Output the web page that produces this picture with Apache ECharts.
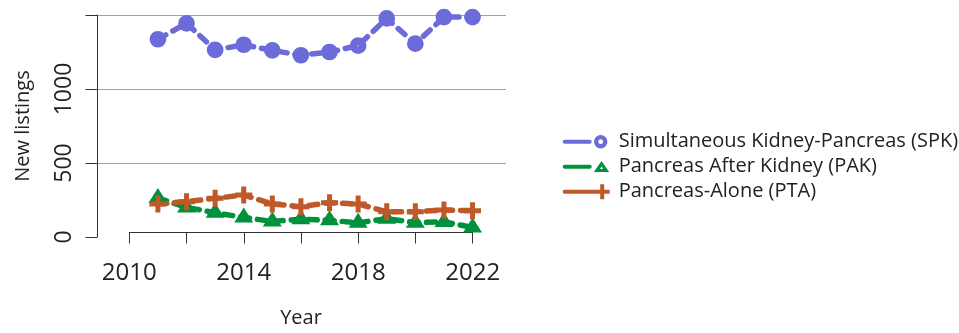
<!DOCTYPE html>
<html>
<head>
<meta charset="utf-8">
<script src="https://cdn.jsdelivr.net/npm/echarts@6/dist/echarts.min.js"></script>
<style>
html,body{margin:0;padding:0;background:#fff;}
#chart{width:959px;height:333px;}
</style>
</head>
<body>
<div id="chart"></div>
<script>
// ---- data ----
const years = [2011, 2012, 2013, 2014, 2015, 2016, 2017, 2018, 2019, 2020, 2021, 2022];
const spkValues = [1336, 1444, 1264, 1299, 1261, 1228, 1250, 1293, 1477, 1306, 1486, 1486];
const pakValues = [263, 200, 164, 132, 105, 120, 113, 96, 124, 97, 102, 65];
const ptaValues = [223, 239, 261, 284, 223, 205, 232, 223, 171, 171, 182, 178];
const seriesNames = ['Simultaneous Kidney-Pancreas (SPK)', 'Pancreas After Kidney (PAK)', 'Pancreas-Alone (PTA)'];
const xTickLabels = ['2010', '2014', '2018', '2022'];
const yTickLabels = ['0', '500', '1000'];

const colSPK = '#6b6bda';
const colPAK = '#00913d';
const colPTA = '#c0592a';
const FONT = 'Open Sans';

const pairs = vals => years.map((y, i) => [y, vals[i]]);

const corners = 'M0,0L0.01,0L0,0.01Z M51,16L50.99,16L51,15.99Z ';
const iconSPK = 'path://' + corners +
  'M2,6H27A2,2 0 0 1 27,10H2A2,2 0 0 1 2,6Z ' +
  'M44.7,8A6.7,6.7 0 1 0 31.3,8A6.7,6.7 0 1 0 44.7,8Z ' +
  'M40.4,8A2.4,2.4 0 1 1 35.6,8A2.4,2.4 0 1 1 40.4,8Z';
const iconPAK = 'path://' + corners +
  'M2,6H27A2,2 0 0 1 27,10H2A2,2 0 0 1 2,6Z ' +
  'M38.8,2.3L46.5,13.2L31.1,13.2Z ' +
  'M38.8,7.6L37.3,10.4L40.3,10.4Z';
const iconPTA = 'path://' + corners +
  'M2,6H32V10H2A2,2 0 0 1 2,6Z ' +
  'M37.5,0.5H41.5V6H47V10H41.5V15.5H37.5V10H32V6H37.5Z';
const plusSymbol = 'path://M6,0h5v6h6v5h-6v6h-5v-6h-6v-5h6z';
const ringSymbol = 'path://M16.7,8.35A8.35,8.35 0 1 0 0,8.35A8.35,8.35 0 1 0 16.7,8.35Z ' +
  'M8.9,8.35A0.55,0.55 0 1 1 7.8,8.35A0.55,0.55 0 1 1 8.9,8.35Z';

const lineCommon = (color) => ({
  color: color,
  width: 5.5,
  type: [9, 8],
  cap: 'round',
  join: 'round'
});

const chart = echarts.init(document.getElementById('chart'), null, {renderer: 'canvas'});
chart.setOption({
  animation: false,
  backgroundColor: '#fff',
  textStyle: {fontFamily: FONT},
  grid: [
    {left: 97, right: 453, top: 15, bottom: 96},
    {left: 129.3, right: 486.3, top: 15, bottom: 87.3}
  ],
  xAxis: [
    {gridIndex: 0, type: 'value', min: 2008.87, max: 2023.17, show: false},
    {
      gridIndex: 1, type: 'value', min: 2010, max: 2022, interval: 2,
      axisLine: {show: true, onZero: false, lineStyle: {color: '#333', width: 1}},
      axisTick: {show: true, length: 11.5, lineStyle: {color: '#333', width: 1}},
      splitLine: {show: false},
      axisLabel: {
        margin: 29, fontSize: 24, color: '#222', fontFamily: FONT,
        formatter: v => xTickLabels.indexOf(String(v)) >= 0 ? String(v) : ''
      },
      name: 'Year', nameLocation: 'middle', nameGap: 76,
      nameTextStyle: {fontSize: 20, color: '#222', fontFamily: FONT}
    }
  ],
  yAxis: [
    {
      gridIndex: 0, type: 'value', min: 0, max: 1500, interval: 500,
      axisLine: {show: true, onZero: false, lineStyle: {color: '#333', width: 1}},
      axisTick: {show: true, length: 11.5, lineStyle: {color: '#333', width: 1}},
      splitLine: {show: true, showMinLine: false, showMaxLine: true, lineStyle: {color: '#a3a3a3', width: 1}},
      axisLabel: {
        rotate: 90, margin: 21, fontSize: 23, color: '#222', fontFamily: FONT,
        formatter: v => yTickLabels.indexOf(String(v)) >= 0 ? String(v) : ''
      },
      name: 'New listings', nameLocation: 'middle', nameGap: 64, nameRotate: 90,
      nameTextStyle: {fontSize: 20, color: '#222', fontFamily: FONT}
    },
    {gridIndex: 1, type: 'value', show: false}
  ],
  legend: {
    orient: 'vertical',
    left: 562.7,
    top: 131.7,
    padding: 0,
    itemGap: 5,
    itemWidth: 51,
    itemHeight: 16,
    selectedMode: false,
    textStyle: {fontSize: 20, color: '#222', fontFamily: FONT},
    data: [
      {name: seriesNames[0], icon: iconSPK, itemStyle: {color: colSPK, borderWidth: 0}},
      {name: seriesNames[1], icon: iconPAK, itemStyle: {color: colPAK, borderWidth: 0}},
      {name: seriesNames[2], icon: iconPTA, itemStyle: {color: colPTA, borderWidth: 0}}
    ]
  },
  series: [
    {
      name: seriesNames[0], type: 'line', xAxisIndex: 0, yAxisIndex: 0,
      data: pairs(spkValues), clip: false,
      symbol: ringSymbol, symbolSize: 16.7,
      itemStyle: {color: colSPK, borderWidth: 0},
      lineStyle: lineCommon(colSPK)
    },
    {
      name: seriesNames[1], type: 'line', xAxisIndex: 0, yAxisIndex: 0,
      data: pairs(pakValues), clip: false,
      symbol: 'triangle', symbolSize: [19, 15], symbolOffset: [0, -2.5],
      itemStyle: {color: colPAK, borderWidth: 0},
      lineStyle: lineCommon(colPAK)
    },
    {
      name: seriesNames[2], type: 'line', xAxisIndex: 0, yAxisIndex: 0,
      data: pairs(ptaValues), clip: false,
      symbol: plusSymbol, symbolSize: 17,
      itemStyle: {color: colPTA, borderWidth: 0},
      lineStyle: lineCommon(colPTA)
    }
  ]
});
</script>
</body>
</html>
